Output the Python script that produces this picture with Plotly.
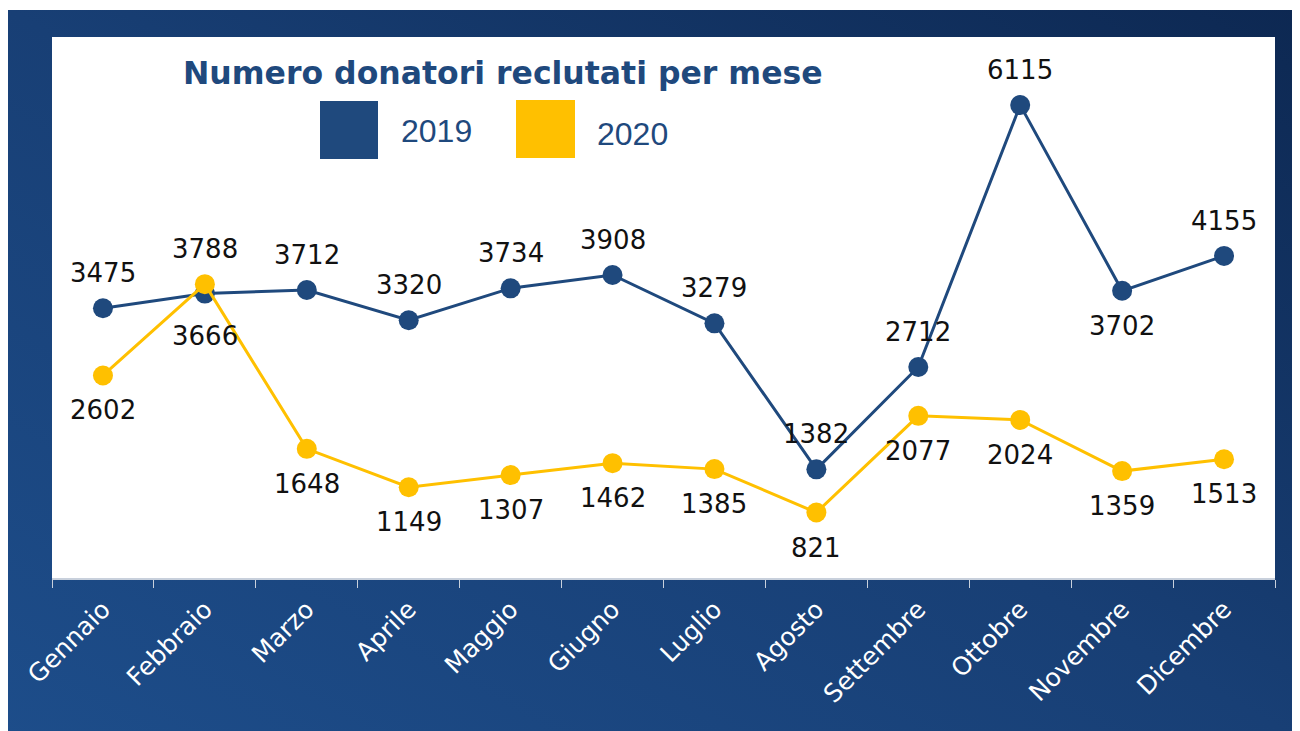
import base64
import plotly.graph_objects as go

months = ["Gennaio", "Febbraio", "Marzo", "Aprile", "Maggio", "Giugno",
          "Luglio", "Agosto", "Settembre", "Ottobre", "Novembre", "Dicembre"]
values_2019 = [3475, 3666, 3712, 3320, 3734, 3908, 3279, 1382, 2712, 6115, 3702, 4155]
values_2020 = [2602, 3788, 1648, 1149, 1307, 1462, 1385, 821, 2077, 2024, 1359, 1513]

# label side: +1 above, -1 below (style, not data)
side_2019 = [1, -1.22, 1, 1, 1, 1, 1, 1, 1, 1, -1, 1]
side_2020 = [-1, 1, -1, -1, -1, -1, -1, -1, -1, -1, -1, -1]

C19 = "#1f497d"
C20 = "#ffc000"

fig = go.Figure()
fig.add_trace(go.Scatter(x=months, y=values_2019, mode="lines+markers", name="2019",
                         line=dict(color=C19, width=3), marker=dict(size=20, color=C19)))
fig.add_trace(go.Scatter(x=months, y=values_2020, mode="lines+markers", name="2020",
                         line=dict(color=C20, width=3), marker=dict(size=20, color=C20)))

annotations = []
for vals, sides in ((values_2019, side_2019), (values_2020, side_2020)):
    for m, v, s in zip(months, vals, sides):
        annotations.append(dict(x=m, y=v, xref="x", yref="y", text=str(v), showarrow=False,
                                yshift=35 * s, font=dict(family="DejaVu Sans", size=26, color="#111111")))

# plot area in screen pixels: x 52..1275, y 37..578 (page has 8px body margin)
W, H = 1223.0, 541.0
def px(x):
    return (x - 52) / W
def py(y):
    return (578 - y) / H

annotations.append(dict(x=px(503), y=py(73), xref="paper", yref="paper", showarrow=False,
                        text="<b>Numero donatori reclutati per mese</b>", xanchor="center", yanchor="middle",
                        font=dict(family="DejaVu Sans", size=31.5, color=C19)))
annotations.append(dict(x=px(399), y=py(131), xref="paper", yref="paper", showarrow=False, text="2019",
                        xanchor="left", yanchor="middle",
                        font=dict(family="Liberation Sans", size=32, color=C19)))
annotations.append(dict(x=px(595), y=py(134), xref="paper", yref="paper", showarrow=False, text="2020",
                        xanchor="left", yanchor="middle",
                        font=dict(family="Liberation Sans", size=32, color=C19)))

shapes = [
    dict(type="rect", xref="paper", yref="paper", x0=0, x1=1, y0=0, y1=1,
         fillcolor="white", line=dict(width=0), layer="below"),
    dict(type="rect", xref="paper", yref="paper", x0=px(320), x1=px(378), y0=py(159), y1=py(101),
         fillcolor=C19, line=dict(width=0), layer="below"),
    dict(type="rect", xref="paper", yref="paper", x0=px(516), x1=px(575), y0=py(158), y1=py(100),
         fillcolor=C20, line=dict(width=0), layer="below"),
]

svg = ('<svg xmlns="http://www.w3.org/2000/svg" width="1292" height="721" viewBox="0 0 1292 721" '
       'preserveAspectRatio="none"><defs><linearGradient id="g" x1="0" y1="1" x2="1" y2="0">'
       '<stop offset="0" stop-color="#1d4d8a"/><stop offset="0.5" stop-color="#183f75"/>'
       '<stop offset="1" stop-color="#0d2852"/></linearGradient></defs>'
       '<rect width="1292" height="721" fill="url(#g)"/></svg>')
src = "data:image/svg+xml;base64," + base64.b64encode(svg.encode()).decode()

fig.update_layout(
    width=1292, height=723,
    margin=dict(l=44, r=25, t=29, b=153),
    paper_bgcolor="white", plot_bgcolor="white",
    showlegend=False,
    annotations=annotations,
    shapes=shapes,
    images=[dict(source=src, xref="paper", yref="paper", x=px(8), y=py(10),
                 sizex=px(1300) - px(8), sizey=py(10) - py(740),
                 xanchor="left", yanchor="top", sizing="stretch", layer="below")],
    xaxis=dict(tickangle=-45, tickson="boundaries", ticks="outside", ticklen=8, tickcolor="#c8d0dc",
               showline=True, linecolor="#c8d0dc", linewidth=1.5, showgrid=False,
               ticklabelstandoff=5,
               tickfont=dict(family="DejaVu Sans", size=25, color="white"), range=[-0.5, 11.5]),
    yaxis=dict(visible=False, range=[-30, 7000], showgrid=False, zeroline=False),
)

fig.write_html("out.html")
